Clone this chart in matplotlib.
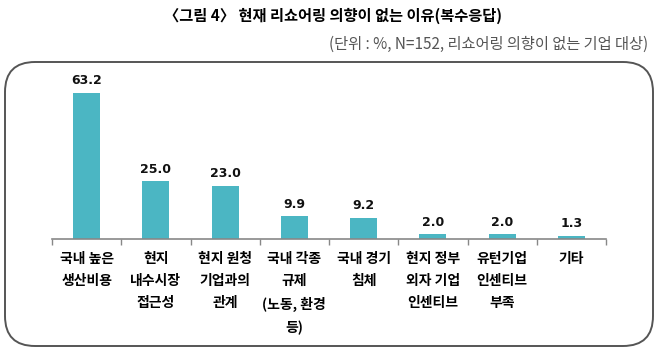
import matplotlib.pyplot as plt
import numpy as np
from matplotlib.patches import FancyBboxPatch

plt.rcParams['font.family'] = ['Noto Sans CJK KR', 'DejaVu Sans']

# 데이터
categories = ['국내 높은\n생산비용', '현지\n내수시장\n접근성', '현지 원청\n기업과의\n관계',
              '국내 각종\n규제\n(노동, 환경\n등)', '국내 경기\n침체', '현지 정부\n외자 기업\n인센티브',
              '유턴기업\n인센티브\n부족', '기타']
values = [63.2, 25.0, 23.0, 9.9, 9.2, 2.0, 2.0, 1.3]

title = '〈그림 4〉 현재 리쇼어링 의향이 없는 이유(복수응답)'
subtitle = '(단위 : %, N=152, 리쇼어링 의향이 없는 기업 대상)'

fig = plt.figure(figsize=(6.65, 3.53), dpi=100)

# 둥근 테두리 박스 (inch 좌표)
box = FancyBboxPatch((0.05, 0.07), 6.48, 2.84,
                     boxstyle='round,pad=0,rounding_size=0.3',
                     transform=fig.dpi_scale_trans, fill=False,
                     edgecolor='#555555', linewidth=1.4)
fig.patches.append(box)

ax = fig.add_axes([52 / 665, 114 / 353, 554 / 665, 161.7 / 353])
x = np.arange(len(values))
bars = ax.bar(x, values, width=0.39, color='#4bb6c3')
ax.set_xlim(-0.5, len(values) - 0.5)
ax.set_ylim(0, 70)

for b, v in zip(bars, values):
    ax.annotate(f'{v:.1f}', (b.get_x() + b.get_width() / 2, v),
                xytext=(0, 4), textcoords='offset points',
                ha='center', va='bottom', fontsize=9, fontweight='bold',
                family='DejaVu Sans', color='#111111')

# 축 모양
for s in ['top', 'right', 'left']:
    ax.spines[s].set_visible(False)
ax.spines['bottom'].set_color('#888888')
ax.spines['bottom'].set_linewidth(1.2)
ax.set_yticks([])
ax.set_xticks(x)
ax.set_xticklabels(categories, fontsize=10, fontweight='bold', linespacing=1.75,
                   va='top')
ax.set_xticks(np.arange(len(values) + 1) - 0.5, minor=True)
ax.tick_params(axis='x', which='major', length=0, pad=9)
ax.tick_params(axis='x', which='minor', length=4, color='#888888', width=1)

fig.text(0.5, 1 - 16 / 353, title, ha='center', va='center', fontsize=11,
         fontweight='bold')
fig.text(648 / 665, 1 - 44 / 353, subtitle, ha='right', va='center', fontsize=11,
         color='#555555')

plt.savefig('out.png', dpi=100)
